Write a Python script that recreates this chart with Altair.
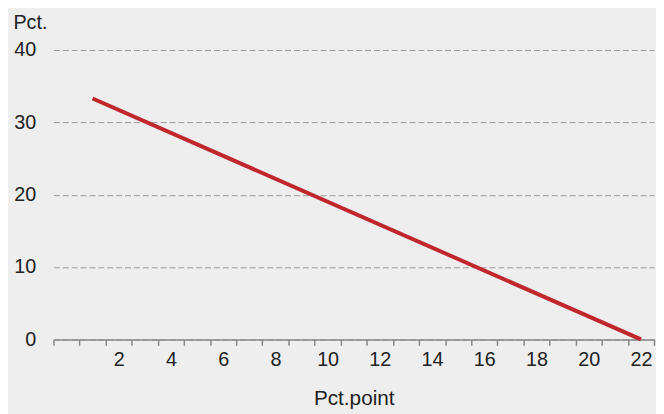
import altair as alt
import pandas as pd

# Data
x_vals = [1, 22]
y_vals = [33.3, 0]
x_label_values = [2, 4, 6, 8, 10, 12, 14, 16, 18, 20, 22]
x_tick_values = [i - 0.5 for i in range(24)]
y_tick_values = [0, 10, 20, 30, 40]

df = pd.DataFrame({"x": x_vals, "y": y_vals})

FONT = "Liberation Sans"
TXT = "#222222"

x_scale = alt.Scale(domain=[-0.5, 22.5], nice=False, zero=False)
y_scale = alt.Scale(domain=[0, 40], nice=False)

y_axis = alt.Axis(values=y_tick_values, domain=False, ticks=False, tickSize=0,
                  gridDash=[6, 3], gridColor="#999999", gridWidth=1,
                  labelFont=FONT, labelFontSize=20, labelColor=TXT,
                  labelPadding=18,
                  title="Pct.", titleAngle=0, titleAlign="left",
                  titleBaseline="alphabetic", titleX=-41, titleY=-22,
                  titleFont=FONT, titleFontSize=20, titleFontWeight="normal",
                  titleColor=TXT)

line = alt.Chart(df).mark_line(color="#c0272d", strokeWidth=4, clip=False).encode(
    x=alt.X("x:Q", scale=x_scale,
            axis=alt.Axis(orient="bottom", values=x_tick_values, labels=False, grid=False,
                          domainColor="#888888", domainWidth=1.5,
                          tickColor="#888888", tickWidth=1.5, tickSize=6,
                          title="Pct.point", titleFont=FONT, titleFontSize=21,
                          titleFontWeight="normal", titleColor=TXT,
                          titleBaseline="alphabetic", titleY=66)),
    y=alt.Y("y:Q", scale=y_scale, axis=y_axis),
)

labels = alt.Chart(df).mark_line(opacity=0).encode(
    x=alt.X("x:Q", scale=x_scale,
            axis=alt.Axis(orient="bottom", values=x_label_values, ticks=False, tickSize=0,
                          domain=False, grid=False,
                          labelFont=FONT, labelFontSize=20, labelColor=TXT,
                          labelBaseline="alphabetic", labelPadding=26, title=None)),
    y=alt.Y("y:Q", scale=y_scale, axis=y_axis),
)

chart = alt.layer(line, labels).resolve_axis(x="independent").properties(
    width=608, height=293,
    autosize=alt.AutoSizeParams(type="none"),
    padding={"left": 46, "top": 40, "right": 2, "bottom": 73},
    background="#eeeeee",
).configure_view(stroke=None)

chart.save("out.html", embed_options={"renderer": "svg", "actions": False})
